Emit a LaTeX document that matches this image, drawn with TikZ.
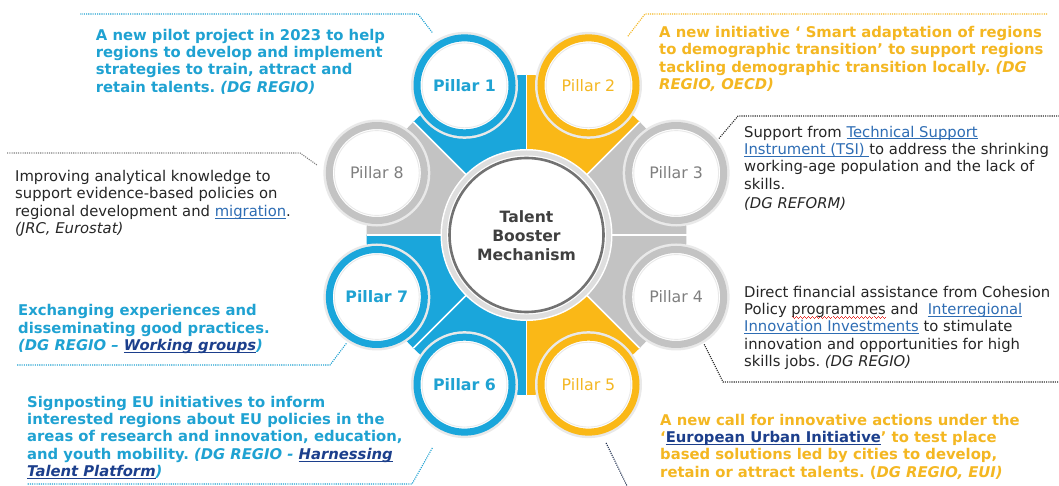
\documentclass[tikz,border=0pt]{standalone}
\usepackage{fontspec}
\setmainfont{DejaVu Sans}
\frenchspacing

\definecolor{tbblue}{HTML}{1AA6DB}
\definecolor{tbbluetext}{HTML}{1FA2D2}
\definecolor{tbyellow}{HTML}{FAB817}
\definecolor{tbyellowtext}{HTML}{F4B722}
\definecolor{tbgray}{HTML}{C3C3C3}
\definecolor{tbgraytext}{HTML}{7F7F7F}
\definecolor{halo}{HTML}{E9E9E9}
\definecolor{coregray}{HTML}{727272}
\definecolor{corehalo}{HTML}{DEDEDE}
\definecolor{darktext}{HTML}{262626}
\definecolor{coretext}{HTML}{3F3F3F}
\definecolor{linkblue}{HTML}{2E6DB4}
\definecolor{navylink}{HTML}{1C3F8C}
\definecolor{dotdark}{HTML}{2B2B2B}
\definecolor{dotnavy}{HTML}{1F2F4F}
\definecolor{spellred}{HTML}{E8322E}

% underlined text: a rule below the baseline, as wide as the text
\newcommand\undl[1]{\setbox0\hbox{#1}\rlap{\rule[-2.3pt]{\wd0}{0.9pt}}\box0\relax}
\newcommand\lnk[1]{{\color{linkblue}\undl{#1}}}
\newcommand\navlnk[1]{{\color{navylink}\undl{#1}}}
% small red zigzag under a word
\newcommand\squig[1]{\setbox0\hbox{#1}%
  \rlap{\color{spellred}\xleaders\hbox{\raisebox{-2.4pt}{\rule{1pt}{0.8pt}}\raisebox{-3.2pt}{\rule{1pt}{0.8pt}}\raisebox{-4pt}{\rule{1pt}{0.8pt}}\raisebox{-3.2pt}{\rule{1pt}{0.8pt}}}\hskip\wd0}\box0\relax}

\begin{document}
\begin{tikzpicture}[x=1pt,y=-1pt,
  body/.style={font=\fontsize{14.8}{17.4}\selectfont, align=left, anchor=base west, inner sep=0pt, text=darktext},
  bodybold/.style={body, font=\fontsize{14.8}{17.4}\selectfont\bfseries},
  pillar/.style={circle, minimum size=95pt, inner sep=0pt, line width=7pt, fill=white,
    font=\fontsize{15.8}{18}\selectfont},
  thinring/.style={draw=halo, line width=0.9pt},
  conn/.style={line width=1.1pt, dash pattern=on 1.1pt off 1.1pt},
]
\useasboundingbox (0,0) rectangle (1059,486);
\fill[white] (0,0) rectangle (1059,486);

\coordinate (C) at (526.5,235);

% coloured sectors behind the pillars
\foreach \a/\c in {0/tbgray,45/tbyellow,90/tbblue,135/tbblue,180/tbgray,225/tbblue,270/tbyellow,315/tbgray}
  \fill[\c] (C) -- ++(\a:160) arc[start angle=\a, end angle=\a+45, radius=160] -- cycle;
\foreach \a in {0,45,...,315}
  \draw[white, line width=1.6pt] (C) -- ++(\a:160);

% central circle
\fill[white] (C) circle[radius=86];
\fill[corehalo] (C) circle[radius=84.5];
\fill[white] (C) circle[radius=79.5];
\node[circle, minimum size=154pt, inner sep=0pt, draw=coregray, line width=2.6pt, fill=white] (core) at (C) {};
\node[font=\fontsize{15.6}{18.5}\selectfont\bfseries, text=coretext, align=center, anchor=base] (coretitle) at (526.5,260) {Talent\\Booster\\Mechanism};

% pillar circles
\foreach \n/\ang/\rc/\lc/\lw in {1/247.5/tbblue/tbbluetext/\bfseries,
    2/292.5/tbyellow/tbyellowtext/\mdseries,
    3/337.5/tbgray/tbgraytext/\mdseries,
    4/22.5/tbgray/tbgraytext/\mdseries,
    5/67.5/tbyellow/tbyellowtext/\mdseries,
    6/112.5/tbblue/tbbluetext/\bfseries,
    7/157.5/tbblue/tbbluetext/\bfseries,
    8/202.5/tbgray/tbgraytext/\mdseries} {
  \path (C) ++(\ang:162) coordinate (c\n);
  \fill[halo] (c\n) circle[radius=53.5];
  \node[pillar, draw=\rc, text=\lc] (p\n) at (c\n) {\lw Pillar \n};
  \draw[thinring] (c\n) circle[radius=42.4];
}

% description texts (each placed by the baseline of its last line)
\node[bodybold, text=tbbluetext] (t1) at (95.7,92.3) {A new pilot project in 2023 to help\\regions to develop and implement\\strategies to train, attract and\\retain talents. \textit{(DG REGIO)}};
\node[bodybold, text=tbyellowtext] (t2) at (659,89.5) {A new initiative ‘ Smart adaptation of regions\\to demographic transition’ to support regions\\tackling demographic transition locally. \textit{(DG}\\\textit{REGIO, OECD)}};
\node[body] (t3) at (744,208.3) {Support from \lnk{Technical Support}\\\lnk{Instrument (TSI)\ }to address the shrinking\\working-age population and the lack of\\skills.\\[1.6pt]\textit{(DG REFORM)}};
\node[body] (t8) at (15,233.5) {Improving analytical knowledge to\\support evidence-based policies on\\regional development and \lnk{migration}.\\\textit{(JRC, Eurostat)}};
\node[body] (t4) at (744,366.7) {Direct financial assistance from Cohesion\\Policy \squig{programmes} and\ \ \lnk{Interregional}\\\lnk{Innovation Investments} to stimulate\\innovation and opportunities for high\\skills jobs. \textit{(DG REGIO)}};
\node[bodybold, text=tbbluetext] (t7) at (18,350.7) {Exchanging experiences and\\disseminating good practices.\\\textit{(DG REGIO – \navlnk{Working groups})}};
\node[bodybold, text=tbbluetext] (t6) at (27,476.7) {Signposting EU initiatives to inform\\interested regions about EU policies in the\\areas of research and innovation, education,\\and youth mobility. \textit{(DG REGIO - \navlnk{Harnessing}}\\\textit{\navlnk{Talent Platform})}};
\node[bodybold, text=tbyellowtext] (t5) at (660,477.3) {A new call for innovative actions under the\\‘\navlnk{European Urban Initiative}’ to test place\\based solutions led by cities to develop,\\retain or attract talents. (\textit{DG REGIO, EUI)}};

% dotted leaders from the pillars
\coordinate (k1) at (418,14);  \coordinate (e1) at (80,14);
\coordinate (k2) at (645,14);  \coordinate (e2) at (1047,14);
\coordinate (k3) at (738,116); \coordinate (e3) at (1059,116);
\coordinate (k8) at (300,153); \coordinate (e8) at (7,153);
\coordinate (k7) at (330,365); \coordinate (e7) at (17,365);
\coordinate (k6) at (412,484); \coordinate (e6) at (27,484);
\coordinate (k4) at (723,382); \coordinate (e4) at (1059,382);
\coordinate (e5) at (629,490);

\draw[conn, draw=tbbluetext, shorten <=11pt] (p1.120) -- (k1) -- (e1);
\draw[conn, draw=tbyellowtext, shorten <=12pt] (p2.51) -- (k2) -- (e2);
\draw[conn, draw=dotdark, shorten <=4pt] (p3.38) -- (k3) -- (e3);
\draw[conn, draw=tbgraytext, shorten <=11pt] (p8.178) -- (k8) -- (e8);
\draw[conn, draw=tbbluetext, shorten <=4.5pt] (p7.237.6) -- (k7) -- (e7);
\draw[conn, draw=tbbluetext, shorten <=20pt] (p6.244) -- (k6) -- (e6);
\draw[conn, draw=dotdark, shorten <=4pt] (p4.301.5) -- (k4) -- (e4);
\draw[conn, draw=dotnavy, shorten <=10pt] (p5.285.6) -- (e5);
\end{tikzpicture}
\end{document}
